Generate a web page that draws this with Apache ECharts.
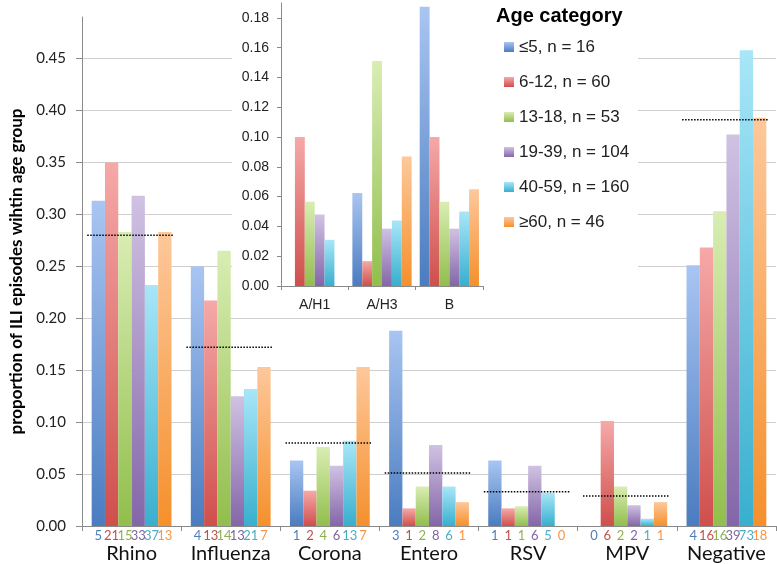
<!DOCTYPE html>
<html>
<head>
<meta charset="utf-8">
<script src="https://cdn.jsdelivr.net/npm/echarts@6/dist/echarts.min.js"></script>
<style>html,body{margin:0;padding:0;background:#fff}#c{width:777px;height:564px}</style>
</head>
<body>
<div id="c"></div>
<script>
// ---- data ----
const categories = ['Rhino', 'Influenza', 'Corona', 'Entero', 'RSV', 'MPV', 'Negative'];
const ageGroups = ['≤5, n = 16', '6-12, n = 60', '13-18, n = 53', '19-39, n = 104', '40-59, n = 160', '≥60, n = 46'];

const propAge1 = [0.313, 0.250, 0.063, 0.188, 0.063, 0.000, 0.251];
const propAge2 = [0.350, 0.217, 0.034, 0.017, 0.017, 0.101, 0.268];
const propAge3 = [0.283, 0.265, 0.076, 0.038, 0.019, 0.038, 0.303];
const propAge4 = [0.318, 0.125, 0.058, 0.078, 0.058, 0.020, 0.377];
const propAge5 = [0.232, 0.132, 0.082, 0.038, 0.032, 0.007, 0.458];
const propAge6 = [0.283, 0.153, 0.153, 0.023, 0.000, 0.023, 0.393];

const countAge1 = [5, 4, 1, 3, 1, 0, 4];
const countAge2 = [21, 13, 2, 1, 1, 6, 16];
const countAge3 = [15, 14, 4, 2, 1, 2, 16];
const countAge4 = [33, 13, 6, 8, 6, 2, 39];
const countAge5 = [37, 21, 13, 6, 5, 1, 73];
const countAge6 = [13, 7, 7, 1, 0, 1, 18];

const overallProp = [0.280, 0.172, 0.080, 0.051, 0.033, 0.029, 0.391];

const fluTypes = ['A/H1', 'A/H3', 'B'];
const fluAge1 = [0.000, 0.0625, 0.1875];
const fluAge2 = [0.100, 0.0167, 0.100];
const fluAge3 = [0.0566, 0.151, 0.0566];
const fluAge4 = [0.048, 0.0385, 0.0385];
const fluAge5 = [0.031, 0.044, 0.050];
const fluAge6 = [0.000, 0.087, 0.065];

const mainTicks = [0, 0.45, 0.05];
const insetTicks = [0, 0.18, 0.02];

// ---- style ----
const topColors = ['#A9C5F2', '#F5A9A8', '#D9EDB3', '#D0C2E3', '#A8E6F8', '#FDC89B'];
const botColors = ['#4A7CC0', '#CF4F4C', '#91BE4C', '#8466A8', '#38AFCE', '#F5902C'];
const labelColors = ['#4F7FBA', '#C0504D', '#8EB152', '#8064A2', '#4BACC6', '#F79646'];

function grad(i) {
  return new echarts.graphic.LinearGradient(0, 0, 0, 1, [
    { offset: 0, color: topColors[i] }, { offset: 1, color: botColors[i] }
  ]);
}

const mainProps = [propAge1, propAge2, propAge3, propAge4, propAge5, propAge6];
const mainCounts = [countAge1, countAge2, countAge3, countAge4, countAge5, countAge6];
const fluProps = [fluAge1, fluAge2, fluAge3, fluAge4, fluAge5, fluAge6];

const series = [];
mainProps.forEach((arr, i) => {
  series.push({
    name: ageGroups[i], type: 'bar', xAxisIndex: 0, yAxisIndex: 0,
    data: arr, barGap: '0%', barCategoryGap: '19.5%',
    itemStyle: { color: grad(i) },
    label: {
      show: true, position: 'bottom', distance: 3,
      formatter: p => String(mainCounts[i][p.dataIndex]),
      color: labelColors[i], fontFamily: 'Lato', fontSize: 13
    },
    z: 2
  });
});
fluProps.forEach((arr, i) => {
  series.push({
    name: ageGroups[i], type: 'bar', xAxisIndex: 1, yAxisIndex: 1,
    data: arr, barGap: '0%', barCategoryGap: '12%',
    itemStyle: { color: grad(i) }, z: 5
  });
});
series.push({
  type: 'custom', xAxisIndex: 0, yAxisIndex: 0, z: 6,
  data: overallProp.map((v, i) => [i, v]),
  encode: { x: 0, y: 1 },
  renderItem: function (params, api) {
    const pt = api.coord([api.value(0), api.value(1)]);
    const w = api.size([1, 0])[0];
    return {
      type: 'line',
      shape: { x1: pt[0] - 0.447 * w, y1: pt[1], x2: pt[0] + 0.428 * w, y2: pt[1] },
      style: { stroke: '#000', lineWidth: 1.5, lineDash: [1.5, 1.5] }
    };
  }
});

const chart = echarts.init(document.getElementById('c'), null, { renderer: 'canvas' });
chart.setOption({
  animation: false,
  backgroundColor: '#fff',
  title: {
    text: 'Age category', left: 491, top: 1,
    textStyle: { fontFamily: 'Liberation Sans', fontWeight: 'bold', fontSize: 20, color: '#000' }
  },
  legend: {
    data: ageGroups, orient: 'vertical', left: 499, top: 32,
    icon: 'rect', itemWidth: 10, itemHeight: 10, itemGap: 15,
    textStyle: { fontFamily: 'Liberation Sans', fontSize: 17, color: '#222', lineHeight: 20 }
  },
  graphic: [{
    type: 'rect', shape: { x: 232, y: 0, width: 406, height: 314 },
    style: { fill: '#fff' }, z: 1, silent: true
  }],
  grid: [
    { left: 72, right: 1, top: 17, bottom: 38 },
    { left: 281, right: 294, top: 3, bottom: 278 }
  ],
  xAxis: [
    {
      type: 'category', gridIndex: 0, data: categories,
      axisLine: { lineStyle: { color: '#8a8a8a', width: 1 } },
      axisTick: { show: true, length: 5, lineStyle: { color: '#8a8a8a' } },
      axisLabel: { interval: 0, margin: 18, fontFamily: 'Lato', fontSize: 20, color: '#111', hideOverlap: false }
    },
    {
      type: 'category', gridIndex: 1, data: fluTypes, z: 5,
      axisLine: { lineStyle: { color: '#8a8a8a', width: 1 } },
      axisTick: { show: true, length: 4, lineStyle: { color: '#8a8a8a' } },
      axisLabel: { interval: 0, margin: 12, fontFamily: 'Liberation Sans', fontSize: 14, color: '#222' }
    }
  ],
  yAxis: [
    {
      type: 'value', gridIndex: 0, min: mainTicks[0], max: 0.49, interval: mainTicks[2],
      name: 'proportion of ILI episodes wihtin age group', nameLocation: 'middle', nameGap: 57,
      nameTextStyle: { fontFamily: 'Lato', fontWeight: 'bold', fontSize: 17, color: '#000' },
      axisLine: { show: true, lineStyle: { color: '#8a8a8a', width: 1 } },
      axisTick: { show: true, length: 6, lineStyle: { color: '#8a8a8a' } },
      axisLabel: { margin: 16, fontFamily: 'Lato', fontSize: 15, color: '#222', showMaxLabel: false,
        formatter: v => v.toFixed(2) },
      splitLine: { show: true, showMaxLine: false, lineStyle: { color: '#cfcfcf', width: 1 } }
    },
    {
      type: 'value', gridIndex: 1, min: insetTicks[0], max: 0.19, interval: insetTicks[2], z: 5,
      axisLine: { show: true, lineStyle: { color: '#8a8a8a', width: 1 } },
      axisTick: { show: true, length: 4, lineStyle: { color: '#8a8a8a' } },
      axisLabel: { margin: 12, fontFamily: 'Liberation Sans', fontSize: 14, color: '#222', showMaxLabel: false,
        formatter: v => v.toFixed(2) },
      splitLine: { show: false }
    }
  ],
  series: series
});
</script>
</body>
</html>
